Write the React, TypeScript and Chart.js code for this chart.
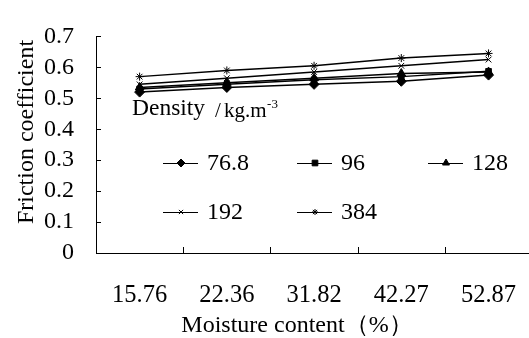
import React, { useEffect, useRef } from "react";
import { Chart, registerables } from "chart.js";
import { drawPoint } from "chart.js/helpers";

Chart.register(...registerables);

const categories = ["15.76", "22.36", "31.82", "42.27", "52.87"];
const seriesNames = ["76.8", "96", "128", "192", "384"];
const d768 = [0.52, 0.535, 0.545, 0.555, 0.575];
const d96 = [0.53, 0.545, 0.56, 0.57, 0.587];
const d128 = [0.535, 0.55, 0.565, 0.58, 0.585];
const d192 = [0.545, 0.565, 0.585, 0.605, 0.625];
const d384 = [0.57, 0.59, 0.605, 0.63, 0.645];
const pointStyles = ["rectRot", "rect", "triangle", "crossRot", "star"];
const pointRadii = [5, 4, 5, 4, 4];
const legendRadii = [4, 4, 4, 3, 3];
const yTitle = "Friction coefficient";
const xTitle = "Moisture content（%）";

const SERIF = "'Times New Roman', 'Liberation Serif', serif";

export default function App() {
  const ref = useRef<HTMLCanvasElement | null>(null);
  useEffect(() => {
    document.body.style.margin = "0";
    const canvas = ref.current!;
    const values = [d768, d96, d128, d192, d384];

    const overlay = {
      id: "overlay",
      afterDraw(chart: any) {
        const ctx = chart.ctx;
        const ca = chart.chartArea;
        const xs = chart.scales.x;
        const ys = chart.scales.y;
        ctx.save();
        ctx.strokeStyle = "#000";
        ctx.fillStyle = "#000";
        ctx.lineWidth = 1;
        // axes
        ctx.beginPath();
        ctx.moveTo(ca.left + 0.5, ca.top);
        ctx.lineTo(ca.left + 0.5, ca.bottom + 0.5);
        ctx.lineTo(ca.right, ca.bottom + 0.5);
        ctx.stroke();
        // inward ticks
        ctx.beginPath();
        ys.ticks.forEach((t: any) => {
          const y = Math.round(ys.getPixelForValue(t.value)) + 0.5;
          ctx.moveTo(ca.left, y);
          ctx.lineTo(ca.left + 5, y);
        });
        for (let i = 0; i < categories.length; i++) {
          const x = Math.round(xs.getPixelForTick(i) + (xs.getPixelForTick(1) - xs.getPixelForTick(0)) / 2) + 0.5;
          ctx.moveTo(x, ca.bottom);
          ctx.lineTo(x, ca.bottom - 6);
        }
        ctx.stroke();

        // y title
        ctx.font = `24px ${SERIF}`;
        ctx.textAlign = "center";
        ctx.textBaseline = "middle";
        ctx.save();
        ctx.translate(27, 132);
        ctx.rotate(-Math.PI / 2);
        ctx.fillText(yTitle, 0, 0);
        ctx.restore();
        // x title
        ctx.fillText(xTitle, 297, 326);

        // legend header
        ctx.textAlign = "left";
        ctx.textBaseline = "alphabetic";
        ctx.font = `23.5px ${SERIF}`;
        ctx.fillText("Density", 132, 115);
        ctx.font = `21px ${SERIF}`;
        ctx.fillText("/", 215, 117);
        ctx.fillText("kg.m", 224, 117);
        const endX = 224 + ctx.measureText("kg.m").width;
        ctx.font = `13px ${SERIF}`;
        ctx.fillText("-3", endX + 0.5, 108);

        // legend items
        const cols = [163, 297, 428];
        const rows = [163, 212];
        ctx.font = `24px ${SERIF}`;
        ctx.textBaseline = "middle";
        seriesNames.forEach((name, i) => {
          const x0 = cols[i % 3];
          const y0 = rows[Math.floor(i / 3)];
          ctx.lineWidth = 1;
          ctx.beginPath();
          ctx.moveTo(x0, y0 + 0.5);
          ctx.lineTo(x0 + 35, y0 + 0.5);
          ctx.stroke();
          drawPoint(ctx, { pointStyle: pointStyles[i], radius: legendRadii[i], rotation: 0, borderWidth: 1 } as any, x0 + 18, y0);
          ctx.fillText(name, x0 + 44, y0 + 1);
        });
        ctx.restore();
      },
    };

    const chart = new Chart(canvas, {
      type: "line",
      data: {
        labels: categories,
        datasets: seriesNames.map((name, i) => ({
          label: name,
          data: values[i],
          borderColor: "#000",
          backgroundColor: "#000",
          borderWidth: 1.5,
          pointStyle: pointStyles[i] as any,
          pointRadius: pointRadii[i],
          pointBorderWidth: 1,
          pointBorderColor: "#000",
          pointBackgroundColor: "#000",
          tension: 0,
        })),
      },
      options: {
        responsive: false,
        animation: false,
        layout: { padding: { top: 19, left: 0, right: 9, bottom: 0 } },
        plugins: { legend: { display: false }, tooltip: { enabled: false } },
        scales: {
          x: {
            type: "category",
            offset: true,
            grid: { display: false, drawTicks: false },
            border: { display: false },
            ticks: { color: "#000", font: { family: SERIF, size: 24.5 }, padding: 28, maxRotation: 0, autoSkip: false },
            afterFit(s: any) { s.height = 85; },
          },
          y: {
            min: 0,
            max: 0.7,
            grid: { display: false, drawTicks: false },
            border: { display: false },
            ticks: { stepSize: 0.1, autoSkip: false, color: "#000", font: { family: SERIF, size: 24 }, padding: 22, callback: (v: any) => String(Math.round(v * 10) / 10) },
            afterFit(s: any) { s.width = 96; },
          },
        },
      },
      plugins: [overlay],
    });
    return () => chart.destroy();
  }, []);
  return (
    <div style={{ width: 529, height: 338, overflow: "hidden", background: "#fff" }}>
      <canvas ref={ref} width={545} height={338} style={{ width: 545, height: 338, display: "block" }} />
    </div>
  );
}
